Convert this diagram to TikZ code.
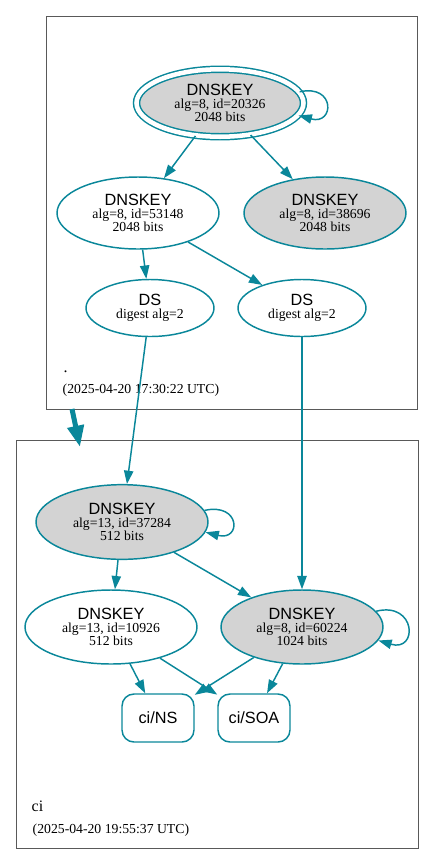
\documentclass[tikz,border=0pt]{standalone}
\usepackage{fontspec}
\setmainfont{Liberation Serif}
\newfontfamily\headfont{Liberation Sans}
\usepackage{tikz}
\usetikzlibrary{arrows.meta,shapes.geometric}
\definecolor{dnsteal}{HTML}{0A879A}
\definecolor{keygray}{HTML}{D3D3D3}
\newcommand{\hd}[1]{{\headfont\fontsize{12.2}{10}\selectfont #1}}

\begin{document}
\begin{tikzpicture}[
  x=0.75pt, y=-0.75pt,
  key/.style={draw=dnsteal, ellipse, line width=1.1pt, inner sep=0pt, align=center, font=\fontsize{10.3}{10}\selectfont, minimum width=121.5pt, minimum height=54pt},
  sep/.style={key, fill=keygray},
  ksk/.style={key, fill=keygray, double, double distance=3.4pt, minimum width=125.25pt, minimum height=50.6pt},
  ds/.style={key, minimum width=96pt, minimum height=42.75pt},
  rr/.style={draw=dnsteal, line width=1.1pt, rounded corners=9pt, minimum width=54pt, minimum height=36pt, font=\headfont\fontsize{12.2}{14}\selectfont},
  zone/.style={draw=black!65, line width=0.75pt},
  label/.style={anchor=base west, font=\fontsize{10.3}{12}\selectfont},
  edge/.style={-{Triangle[length=10pt,width=7pt]}, line width=1.1pt, dnsteal},
  zonearrow/.style={-{Triangle[length=16pt,width=12pt]}, line width=3.75pt, dnsteal}
]
\useasboundingbox (0,0) rectangle (435,865);
\draw[zone] (46,16) rectangle (417,409);
\draw[zone] (16,440) rectangle (418,848);

% root zone
\node[ksk] (ksk) at (220,103) {\hd{DNSKEY}\\alg=8, id=20326\\2048 bits};
\node[key] (zsk) at (138,213) {\hd{DNSKEY}\\alg=8, id=53148\\2048 bits};
\node[sep] (standby) at (325,213) {\hd{DNSKEY}\\alg=8, id=38696\\2048 bits};
\node[ds] (dsa) at (150,308) {\hd{DS}\\digest alg=2};
\node[ds] (dsb) at (302,308) {\hd{DS}\\digest alg=2};
\node[label, font=\fontsize{12}{12}\selectfont] (rootname) at (59,372) {.};
\node[label] (rootstamp) at (58,393) {(2025-04-20 17:30:22 UTC)};

% ci zone
\node[sep, minimum width=129pt, minimum height=56pt] (ciksk) at (122,522) {\hd{DNSKEY}\\alg=13, id=37284\\512 bits};
\node[key, minimum width=129pt, minimum height=55.5pt] (cizsk) at (111,627) {\hd{DNSKEY}\\alg=13, id=10926\\512 bits};
\node[sep, minimum height=55.5pt] (cikey) at (302,627) {\hd{DNSKEY}\\alg=8, id=60224\\1024 bits};
\node[rr] (ns) at (158,718) {ci/NS};
\node[rr] (soa) at (254,718) {ci/SOA};
\node[label, font=\fontsize{12}{12}\selectfont] (ciname) at (27,811) {ci};
\node[label] (cistamp) at (28,833) {(2025-04-20 19:55:37 UTC)};

\coordinate (rootexit) at (72,409);
\coordinate (cientry) at (80,447);

\draw[edge] (ksk.8) .. controls +(36,-8) and +(36,10) .. (ksk.-9);
\draw[edge] (ksk) -- (zsk);
\draw[edge] (ksk) -- (standby);
\draw[edge] (zsk) -- (dsa);
\draw[edge] (zsk) -- (dsb);
\draw[zonearrow] (rootexit) -- (cientry);
\draw[edge] (dsa) -- (ciksk);
\draw[edge] (dsb) -- (cikey);
\draw[edge] (ciksk.8) .. controls +(36,-8) and +(36,9) .. (ciksk.-7);
\draw[edge] (ciksk) -- (cizsk);
\draw[edge] (ciksk) -- (cikey);
\draw[edge] (cikey.12) .. controls +(40,-10) and +(40,12) .. (cikey.-10);
\draw[edge] (cizsk) -- (ns);
\draw[edge] (cizsk) -- (soa);
\draw[edge] (cikey) -- (ns);
\draw[edge] (cikey) -- (soa);
\end{tikzpicture}
\end{document}
